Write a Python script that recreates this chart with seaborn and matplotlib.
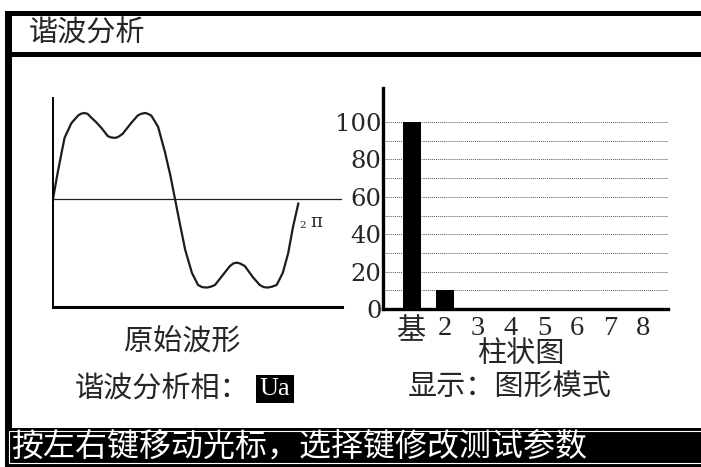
import numpy as np
import matplotlib
matplotlib.use("Agg")
import matplotlib.pyplot as plt
from matplotlib.patches import Rectangle
import seaborn as sns

# original waveform: phase in degrees, amplitude (1 = peak)
wave_phase = [0, 7, 17, 27, 37, 41, 46, 51, 56, 64, 71, 81, 86, 92, 97, 103, 115, 125, 130,
              136, 140, 145, 155, 165, 173,
              180, 187, 195, 205, 214, 220, 227, 233, 239, 251, 261, 266, 271, 276, 283, 295,
              305, 311, 317, 323, 330, 339, 347, 354, 362]
wave_amp = [0, 0.31, 0.71, 0.88, 0.97, 0.99, 1.00, 0.99, 0.95, 0.89, 0.83, 0.73, 0.715, 0.71,
            0.725, 0.76, 0.88, 0.97, 0.99, 1.00, 0.99, 0.97, 0.84, 0.55, 0.28,
            0, -0.28, -0.59, -0.86, -1.00, -1.025, -1.03, -1.02, -1.00, -0.88, -0.78, -0.75,
            -0.74, -0.75, -0.78, -0.91, -1.00, -1.025, -1.03, -1.02, -1.00, -0.86, -0.63,
            -0.33, -0.05]

# harmonic bar chart
harm_labels = ['基', '2', '3', '4', '5', '6', '7', '8']
harm_values = [100, 10, 0, 0, 0, 0, 0, 0]
y_ticks = [0, 10, 20, 30, 40, 50, 60, 70, 80, 90, 100]
y_tick_labels = ['0', '', '20', '', '40', '', '60', '', '80', '', '100']

sns.set_style("white")
plt.rcParams['font.family'] = ['Noto Sans CJK SC', 'DejaVu Sans']

W, H = 701, 467
fig = plt.figure(figsize=(W / 100, H / 100), dpi=100)


def fx(x):
    return x / W


def fy(y):
    return 1 - y / H


def block(x0, y0, x1, y1, color='black'):
    fig.add_artist(Rectangle((fx(x0), fy(y1)), fx(x1) - fx(x0), fy(y0) - fy(y1),
                             transform=fig.transFigure, facecolor=color, edgecolor='none'))


# screen frame
block(5, 11, 701, 16)
block(5, 11, 12, 467)
block(5, 52, 701, 57)
block(5, 428, 701, 467)
fig.add_artist(Rectangle((fx(9), fy(463)), fx(705) - fx(9), fy(431) - fy(463),
                         transform=fig.transFigure, facecolor='none', edgecolor='white', lw=0.8))

# waveform panel
ax1 = fig.add_axes([fx(53), fy(307), fx(342) - fx(53), fy(98) - fy(307)])
ax1.axhline(0, color='#222222', lw=0.9)
sns.lineplot(x=wave_phase, y=wave_amp, ax=ax1, color='#1c1c1c', lw=1.6,
             estimator=None, sort=False, solid_joinstyle='round', solid_capstyle='round')
ax1.set_xlim(0, (342 - 53) * 360 / 244)
ax1.set_ylim(-1.256, 1.174)
ax1.set_xticks([])
ax1.set_yticks([])
ax1.set_facecolor('none')
for s in ['top', 'right']:
    ax1.spines[s].set_visible(False)
ax1.spines['left'].set_linewidth(1.4)
ax1.spines['bottom'].set_linewidth(2.2)
for s in ['left', 'bottom']:
    ax1.spines[s].set_color('black')
ax1.text(369, -0.31, '2', fontsize=7.5, family='DejaVu Serif', ha='center', va='center')
ax1.text(388, -0.27, 'π', fontsize=13, family='DejaVu Serif', ha='center', va='center')

# bar panel
ax2 = fig.add_axes([fx(383), fy(309), fx(668) - fx(383), fy(88) - fy(309)])
ax2.set_axisbelow(True)
sns.barplot(x=harm_labels, y=harm_values, ax=ax2, color='black', width=0.544,
            saturation=1, edgecolor='none')
ax2.set_xlim(-0.864, 7.746)
ax2.set_ylim(0, 118.2)
ax2.set_yticks(y_ticks)
ax2.set_yticklabels(y_tick_labels, fontsize=17.5, family='DejaVu Serif')
ax2.grid(axis='y', linestyle=(0, (1, 1)), color='#555555', lw=0.7)
ax2.grid(axis='x', visible=False)
ax2.tick_params(axis='y', length=0, pad=1)
ax2.tick_params(axis='x', length=0, pad=5)
for lab in ax2.get_xticklabels():
    if lab.get_text() == '基':
        lab.set_fontfamily('Noto Sans CJK SC')
        lab.set_fontsize(21)
    else:
        lab.set_fontfamily('Liberation Serif')
        lab.set_fontsize(20.5)
ax2.set_xlabel('')
ax2.set_ylabel('')
ax2.set_facecolor('none')
for s in ['top', 'right']:
    ax2.spines[s].set_visible(False)
for s in ['left', 'bottom']:
    ax2.spines[s].set_linewidth(2.4)
    ax2.spines[s].set_color('black')

# screen texts
fig.text(fx(87), fy(34), '谐波分析', fontsize=21, ha='center', va='center')
fig.text(fx(182), fy(342), '原始波形', fontsize=21, ha='center', va='center')
fig.text(fx(521), fy(354), '柱状图', fontsize=21, ha='center', va='center')
fig.text(fx(75), fy(390), '谐波分析相：', fontsize=21, ha='left', va='center')
fig.text(fx(275), fy(389), 'Ua', fontsize=19, family='Liberation Serif', color='white',
         ha='center', va='center',
         bbox=dict(facecolor='black', edgecolor='none', pad=2.5))
fig.text(fx(408), fy(388), '显示：图形模式', fontsize=21, ha='left', va='center')
fig.text(fx(11), fy(447), '按左右键移动光标，选择键修改测试参数', fontsize=23,
         color='white', ha='left', va='center')

fig.savefig('out.png', dpi=100)
